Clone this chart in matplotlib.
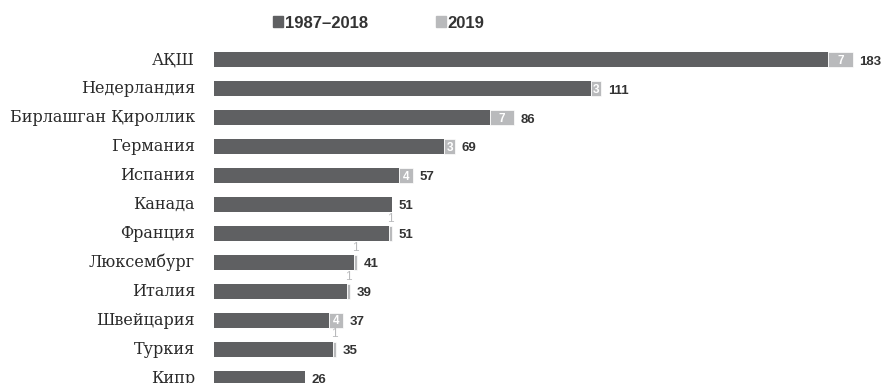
import matplotlib.pyplot as plt
from matplotlib.patches import Patch

# investments by country: 1987-2018 and 2019
countries = ["АҚШ", "Недерландия", "Бирлашган Қироллик", "Германия", "Испания",
             "Канада", "Франция", "Люксембург", "Италия", "Швейцария", "Туркия", "Кипр"]
totals = [183, 111, 86, 69, 57, 51, 51, 41, 39, 37, 35, 26]
added_2019 = [7, 3, 7, 3, 4, 0, 1, 1, 1, 4, 1, 0]
before_2019 = [t - a for t, a in zip(totals, added_2019)]

legend_labels = ["1987–2018", "2019"]

DARK = "#5f6062"
LIGHT = "#b9babc"
TEXT = "#333333"

fig = plt.figure(figsize=(8.83, 3.83), dpi=100)
ax = fig.add_axes([214 / 883, 0, 1 - 214 / 883, (383 - 45.5) / 383])

y = list(range(len(countries)))
ax.barh(y, before_2019, height=0.52, color=DARK, linewidth=0)
ax.barh(y, added_2019, left=before_2019, height=0.52, color=LIGHT,
        edgecolor="white", linewidth=0.5)

for i in y:
    b, a, t = before_2019[i], added_2019[i], totals[i]
    if a >= 2:
        ax.text(b + a / 2, i + 0.03, str(a), ha="center", va="center", color="white",
                fontsize=8.5, family="Liberation Sans", fontweight="bold")
    elif a == 1:
        ax.text(b + a / 2, i - 0.3, str(a), ha="center", va="bottom", color=LIGHT,
                fontsize=8.5, family="Liberation Sans")
    ax.text(t + 1.8, i + 0.06, str(t), ha="left", va="center", color=TEXT,
            fontsize=9.5, family="Liberation Sans", fontweight="bold")

ax.set_xlim(0, (883 - 214) / 3.49)
ax.set_ylim(11.17, -0.5)
ax.axis("off")

# country names drawn left of the bars
for i, name in enumerate(countries):
    fig.text(195 / 883, ax.transData.transform((0, i))[1] / fig.dpi / 3.83,
             name, ha="right", va="center", fontsize=11.5,
             family="DejaVu Serif", color="#2a2a2a")

handles = [Patch(color=DARK), Patch(color=LIGHT)]
fig.legend(handles, legend_labels, loc="center left", ncol=2, frameon=False,
           bbox_to_anchor=(258 / 883, 1 - 23 / 383), handlelength=0.6,
           handleheight=0.6, handletextpad=0.1, columnspacing=4.1,
           prop={"family": "Liberation Sans", "weight": "bold", "size": 12},
           labelcolor=TEXT)

fig.savefig("out.png", dpi=100)
